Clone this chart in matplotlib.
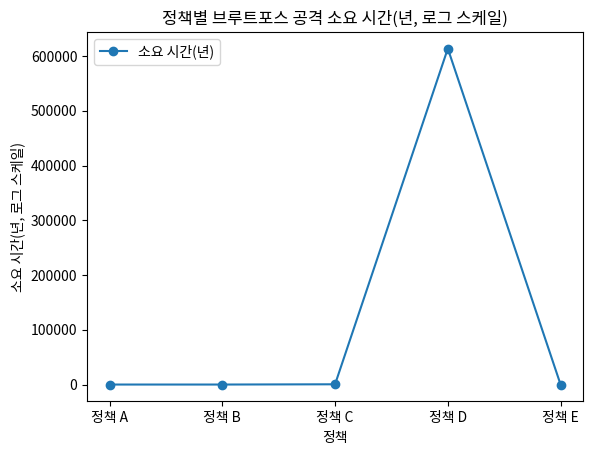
import matplotlib

matplotlib.use("Agg")
import matplotlib.pyplot as plt

plt.rcParams["font.family"] = ["Noto Sans CJK KR", "DejaVu Sans"]
plt.rcParams["axes.unicode_minus"] = False

policies = ["정책 A", "정책 B", "정책 C", "정책 D", "정책 E"]
years = [0.02, 3.5, 450.0, 614000.0, 1.2]

fig, ax = plt.subplots(figsize=(5.92, 4.54), dpi=100)
ax.plot(policies, years, marker="o", color="#1f77b4", label="소요 시간(년)")
ax.set_title("정책별 브루트포스 공격 소요 시간(년, 로그 스케일)")
ax.set_xlabel("정책")
ax.set_ylabel("소요 시간(년, 로그 스케일)")
ax.legend(loc="upper left")
fig.subplots_adjust(left=0.147, right=0.985, top=0.930, bottom=0.116)
fig.savefig("out.png", dpi=100)
